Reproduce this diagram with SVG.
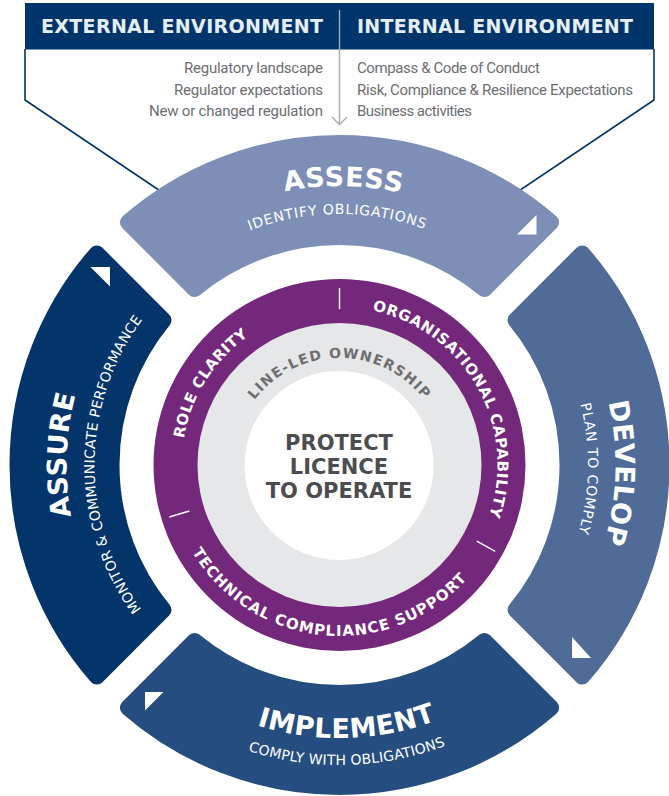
<svg xmlns="http://www.w3.org/2000/svg" width="669" height="796" viewBox="0 0 669 796">
<defs>
<style>
.seg{stroke-width:16;stroke-linejoin:round}
.main{font-family:"DejaVu Sans","Liberation Sans",sans-serif;font-weight:bold;font-size:27px;fill:#ffffff;letter-spacing:0.5px}
.sub{font-family:"DejaVu Sans","Liberation Sans",sans-serif;font-size:14px;fill:#ffffff}
.ring{font-family:"DejaVu Sans","Liberation Sans",sans-serif;font-weight:bold;font-size:15px;fill:#ffffff}
.head{font-family:"DejaVu Sans","Liberation Sans",sans-serif;font-weight:bold;font-size:19px;fill:#e6edf5}
.list{font-family:Roboto,"Liberation Sans",sans-serif;font-size:15px;fill:#6d6e71}
.ctr{font-family:"DejaVu Sans","Liberation Sans",sans-serif;font-weight:bold;font-size:21px;fill:#4d4d4f}
.tri{fill:#ffffff}
.tick{stroke:#ffffff;stroke-width:1.5}
</style>
<path id="pAssess" d="M163.17,248.80 A279,279 0 0 1 521.80,253.80"/>
<path id="pIdentify" d="M145.83,305.34 A251,251 0 0 1 530.36,302.00"/>
<path id="pDevelop" d="M555.94,293.80 A276,276 0 0 1 545.73,648.43"/>
<path id="pPlan" d="M545.28,325.69 A248.5,248.5 0 0 1 540.79,610.72"/>
<path id="pImplement" d="M169.94,678.95 A273,273 0 0 0 520.74,669.15"/>
<path id="pComply" d="M132.98,682.62 A300,300 0 0 0 557.12,671.52"/>
<path id="pAssure" d="M124.08,632.70 A273,273 0 0 1 136.93,281.98"/>
<path id="pMonitor" d="M165.79,637.77 A245,245 0 0 1 166.73,291.29"/>
<path id="pRole" d="M182.92,486.17 A158,158 0 0 1 291.47,314.47"/>
<path id="pOrg" d="M340.88,307.01 A158,158 0 0 1 475.63,545.19"/>
<path id="pTech" d="M181.51,530.44 A171,171 0 0 0 482.10,559.37"/>
<path id="pLine" d="M238.95,428.40 A107,107 0 0 1 440.05,428.40"/>
<path id="segShape" d="M127.90,222.29 A322,322 0 0 1 551.10,222.29 L484.41,288.97 A228,228 0 0 0 194.59,288.97 Z"/>
</defs>

<g id="environment-box">
<polyline points="25,49 25,100 190,211" fill="none" stroke="#00356b" stroke-width="1.6"/>
<polyline points="654,49 654,100 489,211" fill="none" stroke="#00356b" stroke-width="1.6"/>
<rect x="25" y="3" width="629" height="46.5" fill="#00356b"/>
<text class="head" x="41" y="33" textLength="282">EXTERNAL ENVIRONMENT</text>
<text class="head" x="357" y="33" textLength="276">INTERNAL ENVIRONMENT</text>
<text class="list" x="323" y="73" text-anchor="end" textLength="139">Regulatory landscape</text>
<text class="list" x="323" y="94.5" text-anchor="end" textLength="149">Regulator expectations</text>
<text class="list" x="323" y="116" text-anchor="end" textLength="174">New or changed regulation</text>
<text class="list" x="357" y="73" textLength="183">Compass &amp; Code of Conduct</text>
<text class="list" x="357" y="94.5" textLength="276">Risk, Compliance &amp; Resilience Expectations</text>
<text class="list" x="357" y="116" textLength="115">Business activities</text>
</g>

<g id="connectors">
<line x1="339.5" y1="10" x2="339.5" y2="124" stroke="#a7a9ac" stroke-width="1.4"/>
<polyline points="332,117 339.5,124.5 347,117" fill="none" stroke="#a7a9ac" stroke-width="1.4"/>
</g>

<g id="assess">
<use href="#segShape" class="seg" fill="#7d8fb7" stroke="#7d8fb7"/>
<text class="main"><textPath href="#pAssess" startOffset="50%" text-anchor="middle">ASSESS</textPath></text>
<text class="sub" letter-spacing="0.8"><textPath href="#pIdentify" startOffset="50%" text-anchor="middle">IDENTIFY OBLIGATIONS</textPath></text>
<polygon class="tri" points="517,234.5 536.5,234.5 536.5,215"/>
</g>

<g id="develop">
<use href="#segShape" class="seg" fill="#506b98" stroke="#506b98" transform="rotate(90 339.5 465)"/>
<text class="main" letter-spacing="1.2"><textPath href="#pDevelop" startOffset="50%" text-anchor="middle">DEVELOP</textPath></text>
<text class="sub" letter-spacing="0.7"><textPath href="#pPlan" startOffset="50%" text-anchor="middle">PLAN TO COMPLY</textPath></text>
<polygon class="tri" points="572,637 572,658 591,658"/>
</g>

<g id="implement">
<use href="#segShape" class="seg" fill="#254d7f" stroke="#254d7f" transform="rotate(180 339.5 465)"/>
<text class="main" letter-spacing="0.4"><textPath href="#pImplement" startOffset="50%" text-anchor="middle">IMPLEMENT</textPath></text>
<text class="sub" letter-spacing="0.2"><textPath href="#pComply" startOffset="50%" text-anchor="middle">COMPLY WITH OBLIGATIONS</textPath></text>
<polygon class="tri" points="145,692 163.5,692 145,710.5"/>
</g>

<g id="assure">
<use href="#segShape" class="seg" fill="#03356a" stroke="#03356a" transform="rotate(270 339.5 465)"/>
<text class="main" letter-spacing="0.6"><textPath href="#pAssure" startOffset="50%" text-anchor="middle">ASSURE</textPath></text>
<text class="sub" letter-spacing="0.2"><textPath href="#pMonitor" startOffset="50%" text-anchor="middle">MONITOR &amp; COMMUNICATE PERFORMANCE</textPath></text>
<polygon class="tri" points="90.5,267 110,267 110,286.5"/>
</g>

<g id="capability-ring">
<circle cx="339.5" cy="465" r="186" fill="#74287b"/>
<line class="tick" x1="339.5" y1="309" x2="339.5" y2="288"/>
<line class="tick" x1="189.36" y1="510.91" x2="169.28" y2="517.05"/>
<line class="tick" x1="476.81" y1="541.11" x2="495.18" y2="551.29"/>
<text class="ring" letter-spacing="0.4"><textPath href="#pRole" startOffset="50%" text-anchor="middle">ROLE CLARITY</textPath></text>
<text class="ring" letter-spacing="0.6"><textPath href="#pOrg" startOffset="50%" text-anchor="middle">ORGANISATIONAL CAPABILITY</textPath></text>
<text class="ring" letter-spacing="1"><textPath href="#pTech" startOffset="50%" text-anchor="middle">TECHNICAL COMPLIANCE SUPPORT</textPath></text>
</g>

<g id="ownership-ring">
<circle cx="339.5" cy="465" r="142" fill="#e6e7e8"/>
<text class="ring" style="fill:#6d6e71;font-size:14px" letter-spacing="1.3"><textPath href="#pLine" startOffset="50%" text-anchor="middle">LINE-LED OWNERSHIP</textPath></text>
</g>

<g id="centre">
<circle cx="339" cy="465.5" r="94.5" fill="#ffffff"/>
<text class="ctr" x="339" y="450" text-anchor="middle">PROTECT</text>
<text class="ctr" x="339" y="474" text-anchor="middle">LICENCE</text>
<text class="ctr" x="339" y="498" text-anchor="middle">TO OPERATE</text>
</g>
</svg>
